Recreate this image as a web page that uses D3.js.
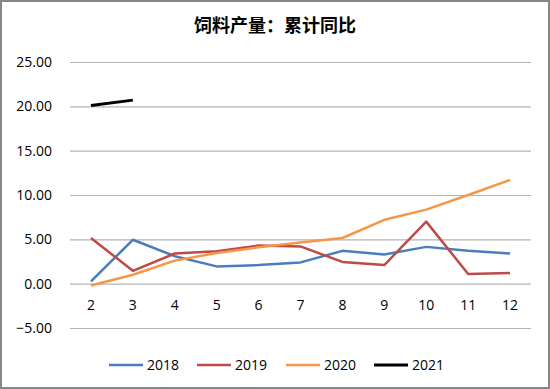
<!DOCTYPE html>
<html lang="zh">
<head>
<meta charset="UTF-8">
<title>饲料产量：累计同比</title>
<script src="https://cdn.jsdelivr.net/npm/d3@7"></script>
<style>
  body { margin: 0; background: #fff; }
  svg { display: block; }
</style>
</head>
<body>
<script>
// months on the x axis
var months = ["2", "3", "4", "5", "6", "7", "8", "9", "10", "11", "12"];
var yTicks = [-5, 0, 5, 10, 15, 20, 25];

var s2018 = [0.25, 4.95, 3.1, 1.95, 2.1, 2.4, 3.7, 3.3, 4.15, 3.7, 3.4];
var s2019 = [5.15, 1.45, 3.4, 3.65, 4.3, 4.2, 2.45, 2.1, 7.0, 1.1, 1.2];
var s2020 = [-0.2, 1.0, 2.6, 3.45, 4.1, 4.65, 5.15, 7.2, 8.35, 10.0, 11.7];
var s2021 = [20.1, 20.7];

var series = [
  { name: "2018", values: s2018, color: "#4a7ebb", width: 2.5 },
  { name: "2019", values: s2019, color: "#be4b48", width: 2.5 },
  { name: "2020", values: s2020, color: "#f79646", width: 2.5 },
  { name: "2021", values: s2021, color: "#000000", width: 3 }
];

var W = 550, H = 389;
var plot = { left: 70, right: 531, top: 62, bottom: 328 };

var svg = d3.select("body").append("svg")
  .attr("width", W).attr("height", H);

// outer frame
svg.append("rect")
  .attr("x", 1).attr("y", 1)
  .attr("width", W - 2).attr("height", H - 2)
  .attr("fill", "#fff").attr("stroke", "#868686").attr("stroke-width", 2);

// title
svg.append("text")
  .attr("x", W / 2).attr("y", 32)
  .attr("text-anchor", "middle")
  .style("font-family", "'Noto Sans CJK SC', sans-serif")
  .style("font-weight", "bold")
  .style("font-size", "18px")
  .attr("fill", "#000")
  .text("饲料产量：累计同比");

var x = d3.scaleBand().domain(months).range([plot.left, plot.right]);
var y = d3.scaleLinear().domain([-5, 25]).range([plot.bottom, plot.top]);

// gridlines + y labels
var yAxis = d3.axisLeft(y).tickValues(yTicks)
  .tickSize(-(plot.right - plot.left))
  .tickFormat(d3.format(".2f"))
  .tickPadding(18);

var gy = svg.append("g")
  .attr("transform", "translate(" + plot.left + ",0)")
  .call(yAxis);
gy.select(".domain").remove();
gy.selectAll("line").attr("stroke", "#b3b3b3").attr("stroke-width", 1.2);
gy.selectAll("text")
  .style("font-family", "'Open Sans', sans-serif")
  .style("font-size", "14px")
  .attr("fill", "#000");

// x labels (sit just below the 0 line)
var gx = svg.append("g")
  .attr("transform", "translate(0," + (y(0) + 12) + ")")
  .call(d3.axisBottom(x).tickSize(0).tickPadding(4));
gx.select(".domain").remove();
gx.selectAll("text")
  .style("font-family", "'Open Sans', sans-serif")
  .style("font-size", "14px")
  .attr("fill", "#000");

var line = d3.line()
  .x(function (d, i) { return x(months[i]) + x.bandwidth() / 2; })
  .y(function (d) { return y(d); });

svg.selectAll(".series")
  .data(series)
  .enter()
  .append("path")
  .attr("class", "series")
  .attr("fill", "none")
  .attr("stroke", function (d) { return d.color; })
  .attr("stroke-width", function (d) { return d.width; })
  .attr("stroke-linejoin", "round")
  .attr("d", function (d) { return line(d.values); });

// legend
var legendX = [109, 197, 286, 374];
var legend = svg.selectAll(".legend")
  .data(series)
  .enter()
  .append("g")
  .attr("class", "legend")
  .attr("transform", function (d, i) { return "translate(" + legendX[i] + ",365)"; });

legend.append("line")
  .attr("x1", 0).attr("x2", 34)
  .attr("stroke", function (d) { return d.color; })
  .attr("stroke-width", function (d) { return d.width; });

legend.append("text")
  .attr("x", 38).attr("y", 5)
  .style("font-family", "'Open Sans', sans-serif")
  .style("font-size", "14px")
  .attr("fill", "#000")
  .text(function (d) { return d.name; });
</script>
</body>
</html>
